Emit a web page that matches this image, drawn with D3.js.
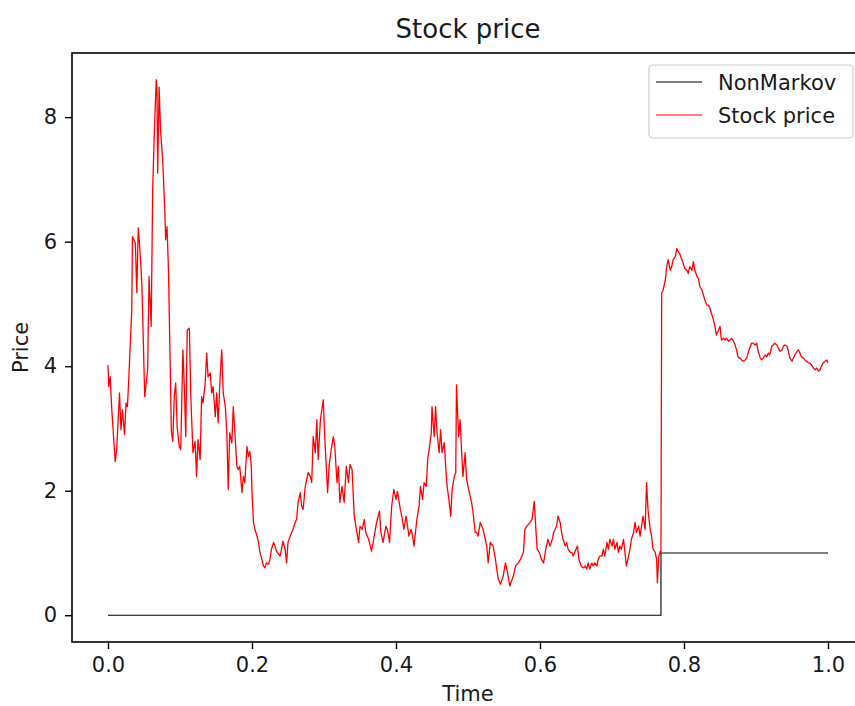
<!DOCTYPE html>
<html>
<head>
<meta charset="utf-8">
<script src="https://cdn.jsdelivr.net/npm/d3@7"></script>
<style>
  html, body { margin: 0; padding: 0; background: #fff; overflow: hidden; }
  svg { display: block; font-family: "DejaVu Sans", sans-serif; }
</style>
</head>
<body>
<svg id="chart" width="855" height="706"></svg>
<script>
// ---- data ----
const chartTitle = "Stock price";
const xLabel = "Time";
const yLabel = "Price";
const seriesNames = ["NonMarkov", "Stock price"];
const xTicks = [0.0, 0.2, 0.4, 0.6, 0.8, 1.0];
const yTicks = [0, 2, 4, 6, 8];

const nonMarkovTime  = [0.0, 0.768, 0.768, 1.0];
const nonMarkovValue = [0, 0, 1, 1];

const priceTime = [
  0.000,0.001,0.003,0.005,0.010,0.012,0.016,0.018,0.020,0.023,0.025,0.027,0.029,0.032,0.033,0.034,0.038,0.040,0.042,0.044,
  0.047,0.051,0.055,0.057,0.060,0.062,0.064,0.067,0.068,0.069,0.071,0.073,0.076,0.079,0.080,0.082,0.084,0.086,0.088,0.090,
  0.092,0.094,0.096,0.099,0.101,0.104,0.106,0.108,0.110,0.113,0.115,0.118,0.121,0.123,0.125,0.128,0.130,0.132,0.135,0.137,
  0.139,0.142,0.144,0.146,0.149,0.151,0.153,0.156,0.158,0.160,0.163,0.165,0.167,0.169,0.172,0.174,0.176,0.179,0.181,0.183,
  0.186,0.188,0.190,0.193,0.195,0.197,0.199,0.200,0.202,0.204,0.207,0.209,0.211,0.213,0.216,0.218,0.220,0.223,0.225,0.227,
  0.230,0.232,0.234,0.237,0.239,0.241,0.243,0.246,0.248,0.250,0.253,0.255,0.257,0.260,0.262,0.264,0.267,0.269,0.271,0.274,
  0.276,0.278,0.281,0.283,0.285,0.288,0.290,0.292,0.295,0.299,0.301,0.305,0.307,0.310,0.313,0.315,0.318,0.320,0.322,0.325,
  0.328,0.331,0.334,0.336,0.339,0.342,0.345,0.348,0.350,0.353,0.356,0.358,0.362,0.366,0.369,0.373,0.377,0.379,0.382,0.386,
  0.388,0.391,0.394,0.397,0.400,0.402,0.406,0.408,0.411,0.414,0.416,0.418,0.421,0.423,0.425,0.429,0.432,0.434,0.437,0.439,
  0.442,0.444,0.446,0.449,0.450,0.453,0.455,0.457,0.460,0.462,0.464,0.467,0.469,0.471,0.474,0.476,0.478,0.481,0.483,0.484,
  0.487,0.489,0.491,0.493,0.496,0.498,0.500,0.503,0.505,0.507,0.510,0.512,0.514,0.517,0.521,0.526,0.528,0.531,0.535,0.538,
  0.542,0.545,0.549,0.552,0.555,0.558,0.563,0.566,0.570,0.573,0.577,0.579,0.582,0.586,0.589,0.592,0.594,0.596,0.599,0.602,
  0.605,0.608,0.611,0.614,0.617,0.619,0.623,0.625,0.628,0.630,0.632,0.635,0.637,0.639,0.642,0.644,0.646,0.650,0.652,0.654,
  0.657,0.660,0.663,0.665,0.667,0.669,0.672,0.674,0.676,0.679,0.681,0.683,0.686,0.688,0.690,0.693,0.695,0.697,0.700,0.702,
  0.704,0.707,0.709,0.711,0.713,0.716,0.718,0.720,0.723,0.725,0.727,0.730,0.732,0.734,0.737,0.739,0.741,0.743,0.746,0.748,
  0.750,0.753,0.755,0.757,0.760,0.762,0.763,0.765,0.767,0.768,0.769,0.771,0.774,0.776,0.778,0.781,0.783,0.785,0.788,0.790,
  0.792,0.794,0.797,0.799,0.801,0.804,0.806,0.808,0.811,0.813,0.815,0.818,0.820,0.822,0.825,0.827,0.829,0.832,0.834,0.836,
  0.838,0.841,0.843,0.845,0.848,0.850,0.852,0.855,0.857,0.859,0.862,0.864,0.866,0.868,0.871,0.873,0.875,0.878,0.880,0.882,
  0.885,0.887,0.889,0.892,0.894,0.896,0.899,0.901,0.903,0.906,0.908,0.910,0.913,0.915,0.917,0.919,0.922,0.924,0.926,0.929,
  0.931,0.933,0.936,0.938,0.940,0.943,0.945,0.947,0.950,0.952,0.954,0.957,0.959,0.961,0.963,0.966,0.968,0.970,0.973,0.975,
  0.977,0.980,0.982,0.984,0.987,0.989,0.991,0.993,0.996,0.998,1.000
];
const priceValue = [
  4.02,3.67,3.83,3.35,2.47,2.66,3.57,2.98,3.30,2.90,3.41,3.35,3.83,4.64,4.90,6.08,5.98,5.18,6.22,5.92,
  5.33,3.51,3.94,5.44,4.64,6.80,7.63,8.60,8.43,7.10,8.48,7.79,7.31,6.46,6.03,6.24,5.54,4.26,2.95,2.79,
  3.51,3.73,3.03,2.71,2.66,4.26,3.67,2.87,4.58,4.61,3.51,2.61,2.79,2.23,2.82,2.50,3.51,3.41,3.73,4.21,
  3.83,3.89,3.57,3.67,3.19,3.57,3.09,3.89,4.26,3.57,3.35,2.93,2.02,2.93,2.77,3.35,2.98,2.39,2.34,2.39,
  1.97,2.23,2.13,2.71,2.55,2.63,2.39,1.97,1.49,1.38,1.27,1.17,1.01,0.93,0.79,0.76,0.84,0.82,0.90,1.06,
  1.17,1.11,1.03,0.98,0.95,1.06,1.19,1.06,0.84,1.17,1.27,1.33,1.38,1.49,1.54,1.81,1.97,1.75,1.70,2.07,
  2.18,2.29,2.23,2.13,2.87,2.61,3.14,2.50,3.14,3.46,2.87,1.97,2.39,2.66,2.87,2.71,2.13,2.39,1.81,2.07,
  1.81,2.39,2.13,2.42,2.34,1.59,1.38,1.17,1.43,1.38,1.54,1.33,1.22,1.03,1.22,1.49,1.67,1.33,1.17,1.43,
  1.38,1.17,1.75,2.02,1.86,1.99,1.70,1.59,1.38,1.59,1.43,1.27,1.38,1.27,1.11,1.54,1.75,2.07,1.86,2.13,
  2.07,2.50,2.66,2.93,3.35,2.87,3.35,2.93,2.61,2.98,2.61,2.77,2.39,2.07,1.81,1.59,2.02,2.23,2.29,3.70,
  2.87,3.14,2.66,2.23,2.61,2.18,2.07,1.91,1.81,1.65,1.33,1.33,1.27,1.49,1.38,1.11,0.84,1.17,1.11,0.90,
  0.58,0.50,0.63,0.84,0.68,0.47,0.63,0.79,0.84,0.90,1.01,1.38,1.43,1.49,1.54,1.83,1.43,1.06,1.01,0.90,
  0.84,1.06,1.22,1.11,1.22,1.33,1.43,1.59,1.49,1.33,1.22,1.11,1.17,1.06,1.01,1.01,0.95,1.06,1.11,0.90,
  0.79,0.76,0.79,0.74,0.84,0.74,0.84,0.79,0.84,0.79,0.90,0.95,0.95,1.06,0.95,1.17,1.06,1.22,1.11,1.22,
  1.06,1.17,1.01,1.11,1.06,1.22,1.01,0.79,0.95,1.06,1.22,1.33,1.49,1.33,1.43,1.27,1.43,1.59,1.38,2.13,
  1.70,1.38,1.27,1.06,1.01,0.90,0.52,0.95,1.03,1.01,5.17,5.22,5.38,5.60,5.71,5.54,5.60,5.71,5.76,5.89,
  5.84,5.81,5.71,5.65,5.57,5.54,5.49,5.60,5.54,5.68,5.54,5.44,5.41,5.28,5.22,5.14,5.06,4.98,4.98,4.93,
  4.85,4.74,4.64,4.50,4.58,4.64,4.42,4.45,4.42,4.45,4.40,4.42,4.45,4.42,4.34,4.26,4.15,4.13,4.10,4.08,
  4.10,4.13,4.21,4.32,4.37,4.37,4.34,4.37,4.24,4.13,4.10,4.13,4.18,4.15,4.21,4.18,4.32,4.34,4.37,4.34,
  4.29,4.24,4.26,4.32,4.34,4.32,4.24,4.13,4.08,4.13,4.18,4.24,4.26,4.21,4.15,4.13,4.10,4.08,4.05,4.05,
  4.02,3.97,3.94,3.97,3.92,3.94,4.00,4.05,4.08,4.10,4.05
];

// ---- layout ----
const svg = d3.select("#chart");
const margin = { left: 72, top: 53, right: 864, bottom: 642 };
const fontSize = 21;

const x = d3.scaleLinear().domain([-0.05, 1.05]).range([margin.left, margin.right]);
const y = d3.scaleLinear().domain([-0.43, 9.03]).range([margin.bottom, margin.top]);

svg.append("defs").append("clipPath").attr("id", "plotclip")
  .append("rect")
  .attr("x", margin.left).attr("y", margin.top)
  .attr("width", margin.right - margin.left).attr("height", margin.bottom - margin.top);

const nmData = nonMarkovTime.map((t, i) => ({ t, v: nonMarkovValue[i] }));
const priceData = priceTime.map((t, i) => ({ t, v: priceValue[i] }));

const line = d3.line().x(d => x(d.t)).y(d => y(d.v));

const plot = svg.append("g").attr("clip-path", "url(#plotclip)");
plot.append("path").datum(nmData)
  .attr("d", line).attr("fill", "none")
  .attr("stroke", "black").attr("stroke-width", 1.1);
plot.append("path").datum(priceData)
  .attr("d", line).attr("fill", "none")
  .attr("stroke", "red").attr("stroke-width", 1.3)
  .attr("stroke-linejoin", "round");

// ---- axes ----
const xAxis = d3.axisBottom(x).tickValues(xTicks).tickFormat(d3.format(".1f"))
  .tickSize(7).tickPadding(7).tickSizeOuter(0);
const yAxis = d3.axisLeft(y).tickValues(yTicks).tickFormat(d3.format("d"))
  .tickSize(7).tickPadding(8).tickSizeOuter(0);

const gx = svg.append("g").attr("transform", `translate(0,${margin.bottom})`).call(xAxis);
const gy = svg.append("g").attr("transform", `translate(${margin.left},0)`).call(yAxis);
[gx, gy].forEach(g => {
  g.select(".domain").remove();
  g.selectAll(".tick line").attr("stroke", "black").attr("stroke-width", 1.4);
  g.selectAll(".tick text").attr("font-size", fontSize).attr("fill", "#1a1a1a")
    .attr("font-family", "DejaVu Sans");
});
gx.selectAll(".tick text").attr("dy", "0.74em");

// spines
svg.append("rect")
  .attr("x", margin.left).attr("y", margin.top)
  .attr("width", margin.right - margin.left).attr("height", margin.bottom - margin.top)
  .attr("fill", "none").attr("stroke", "black").attr("stroke-width", 1.6);

// ---- labels ----
svg.append("text").attr("x", (margin.left + margin.right) / 2).attr("y", 38)
  .attr("text-anchor", "middle").attr("font-size", 26).attr("fill", "#1a1a1a")
  .text(chartTitle);
svg.append("text").attr("x", (margin.left + margin.right) / 2).attr("y", 701)
  .attr("text-anchor", "middle").attr("font-size", fontSize).attr("fill", "#1a1a1a")
  .text(xLabel);
svg.append("text")
  .attr("transform", `translate(28,${(margin.top + margin.bottom) / 2}) rotate(-90)`)
  .attr("text-anchor", "middle").attr("font-size", fontSize).attr("fill", "#1a1a1a")
  .text(yLabel);

// ---- legend ----
const legend = svg.append("g");
legend.append("rect")
  .attr("x", 649).attr("y", 65).attr("width", 204).attr("height", 73)
  .attr("rx", 4).attr("fill", "white").attr("fill-opacity", 0.8)
  .attr("stroke", "#cccccc").attr("stroke-width", 1.2);
const legendColors = ["black", "red"];
seriesNames.forEach((name, i) => {
  const cy = 82 + i * 33;
  legend.append("line").attr("x1", 656).attr("x2", 702).attr("y1", cy).attr("y2", cy)
    .attr("stroke", legendColors[i]).attr("stroke-width", 1.1);
  legend.append("text").attr("x", 718).attr("y", cy + 7.5)
    .attr("font-size", fontSize).attr("fill", "#1a1a1a").text(name);
});
</script>
</body>
</html>
